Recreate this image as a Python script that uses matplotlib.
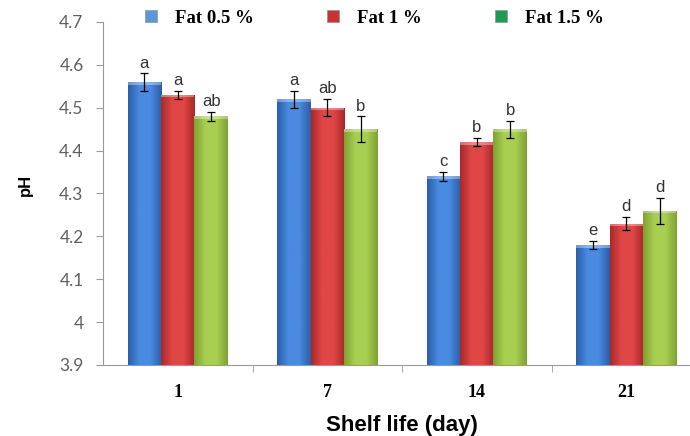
import numpy as np
import matplotlib
matplotlib.use("Agg")
import matplotlib.pyplot as plt
from matplotlib.colors import LinearSegmentedColormap

days = ["1", "7", "14", "21"]
series = ["Fat 0.5 %", "Fat 1 %", "Fat 1.5 %"]
ph_fat05 = [4.56, 4.52, 4.34, 4.18]
ph_fat1 = [4.53, 4.50, 4.42, 4.23]
ph_fat15 = [4.48, 4.45, 4.45, 4.26]
err_fat05 = [0.02, 0.02, 0.01, 0.01]
err_fat1 = [0.01, 0.02, 0.01, 0.015]
err_fat15 = [0.01, 0.03, 0.02, 0.03]
letters_fat05 = ["a", "a", "c", "e"]
letters_fat1 = ["a", "ab", "b", "d"]
letters_fat15 = ["ab", "b", "b", "d"]

values = [ph_fat05, ph_fat1, ph_fat15]
errors = [err_fat05, err_fat1, err_fat15]
letters = [letters_fat05, letters_fat1, letters_fat15]
# (edge, mid) shades for the cylinder-like fill
shades = [("#2a5ea8", "#4a8ae0"), ("#a82a2a", "#e04646"), ("#7fa232", "#a8cf52")]
legend_colors = ["#5a96d8", "#c83434", "#1f9a55"]

fig = plt.figure(figsize=(6.9, 4.36), dpi=100)
ax = fig.add_axes([103 / 690, 1 - 365 / 436, 598 / 690, 343 / 436])

base = 3.9
width = 0.223
x = np.arange(len(days))

for i, (vals, errs, labs) in enumerate(zip(values, errors, letters)):
    pos = x + (i - 1) * width
    bars = ax.bar(pos, np.array(vals) - base, width, bottom=base,
                  color=shades[i][1], edgecolor="none", zorder=2)
    cmap = LinearSegmentedColormap.from_list(
        "c%d" % i, [shades[i][0], shades[i][1], shades[i][1], shades[i][0]])
    grad = np.linspace(0, 1, 64).reshape(1, -1)
    for b in bars:
        x0, w, h = b.get_x(), b.get_width(), b.get_y() + b.get_height()
        im = ax.imshow(grad, cmap=cmap, aspect="auto",
                       extent=[x0, x0 + w, base, h], zorder=2.1)
        im.set_clip_path(b)
        # lighter cap on top of each bar
        ax.add_patch(plt.Rectangle((x0, h - 0.006), w, 0.006,
                                   color="white", alpha=0.35, lw=0, zorder=2.2))
    ax.errorbar(pos, vals, yerr=errs, fmt="none", ecolor="black",
                elinewidth=0.9, capsize=3, capthick=0.9, zorder=3)
    for xp, v, e, lab in zip(pos, vals, errs, labs):
        ax.annotate(lab, (xp, v + e), xytext=(0, 2), textcoords="offset points",
                    ha="center", va="bottom", fontsize=12, color="#333333",
                    family="Liberation Sans")

ax.set_ylim(3.9, 4.7)
ax.set_xlim(-0.5, 3.5)
ax.set_yticks(np.arange(3.9, 4.71, 0.1))
ax.set_yticklabels(["3.9", "4", "4.1", "4.2", "4.3", "4.4", "4.5", "4.6", "4.7"],
                   fontsize=12.5, color="#606060", family="Lato")
ax.set_xticks(x)
ax.set_xticklabels(days, fontsize=13, fontweight="bold", family="Liberation Serif")
ax.set_xticks([0.5, 1.5, 2.5], minor=True)
ax.tick_params(axis="x", which="major", length=0, pad=14)
ax.tick_params(axis="x", which="minor", length=5, color="#999999")
ax.tick_params(axis="y", length=5, color="#999999", pad=9)

for s in ["top", "right"]:
    ax.spines[s].set_visible(False)
for s in ["left", "bottom"]:
    ax.spines[s].set_color("#999999")

ax.set_xlabel("Shelf life (day)", fontsize=16, fontweight="bold",
              family="Liberation Sans", labelpad=10)
ax.set_ylabel("pH", fontsize=12, fontweight="bold", family="Liberation Sans")
ax.yaxis.set_label_coords(-70 / 598, (365 - 185) / 343)

handles = [plt.Line2D([], [], marker="s", ls="none", markersize=8,
                      markerfacecolor=c, markeredgecolor="#888888", markeredgewidth=0.4)
           for c in legend_colors]
fig.legend(handles, series, loc="center", bbox_to_anchor=(368 / 690, 1 - 18 / 436),
           ncol=3, frameon=False, handletextpad=0.3, columnspacing=3.2,
           prop={"family": "Liberation Serif", "weight": "bold", "size": 13.5})

fig.savefig("out.png", dpi=100)
